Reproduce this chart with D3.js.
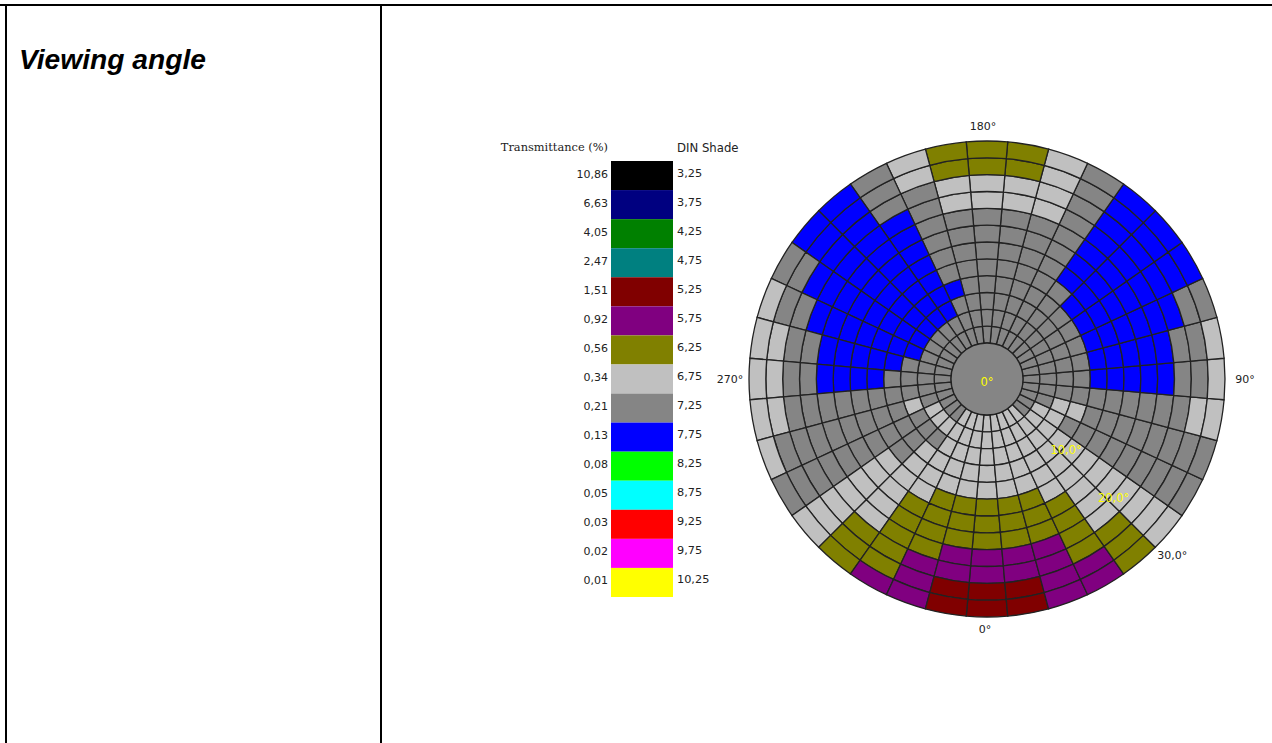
<!DOCTYPE html>
<html>
<head>
<meta charset="utf-8">
<title>Viewing angle</title>
<script src="https://cdn.jsdelivr.net/npm/d3@7"></script>
<style>
    html, body { margin: 0; padding: 0; background: #fff; overflow: hidden; }
    text { font-family: "DejaVu Sans", sans-serif; font-size: 11px; fill: #222; }
    .title { font-family: "Liberation Sans", Arial, sans-serif; font-size: 28.2px; font-weight: bold; font-style: italic; fill: #000; }
    .legend_head { font-family: "DejaVu Serif", serif; font-size: 11.4px; }
    .din_head { font-size: 11.7px; }
    .din { font-size: 11.3px; }
    .ring_label { fill: #ffff00; font-size: 11.5px; }
</style>
</head>
<body>
<svg id="chart" width="1272" height="743"></svg>
<script>
// legend, top to bottom
const transmittance = ["10,86","6,63","4,05","2,47","1,51","0,92","0,56","0,34","0,21","0,13","0,08","0,05","0,03","0,02","0,01"];
const dinLabels = ["3,25","3,75","4,25","4,75","5,25","5,75","6,25","6,75","7,25","7,75","8,25","8,75","9,25","9,75","10,25"];
const dinShades = [3.25,3.75,4.25,4.75,5.25,5.75,6.25,6.75,7.25,7.75,8.25,8.75,9.25,9.75,10.25];
const shadeColors = ["#000000","#000080","#008000","#008080","#800000","#800080","#808000","#c0c0c0","#858585","#0000ff","#00ff00","#00ffff","#ff0000","#ff00ff","#ffff00"];

// shorthand for the shades that show up in the plot
const M = 5.25, P = 5.75, O = 6.25, L = 6.75, G = 7.25, B = 7.75;

// polar angle of each sector (0 = bottom, 90 = right)
const sectorAngles = d3.range(0, 360, 10);
const centerShade = G;

// one row per sector, one value per ring, centre outwards (2,5 deg per ring)
const sectorShades = [
    [L,L,L,L,L,O,O,O,P,P,M,M], // 0
    [L,L,L,L,L,O,O,O,P,P,M,M],
    [L,L,L,L,L,O,O,O,P,P,P,P],
    [L,L,L,L,L,L,O,O,O,O,P,P],
    [L,L,L,L,L,L,L,L,L,O,O,O],
    [G,L,L,L,L,L,L,L,L,L,L,L],
    [G,L,L,G,G,G,G,G,G,G,G,G],
    [G,G,L,L,G,G,G,G,G,G,G,G],
    [G,G,G,G,G,G,G,G,G,G,L,L],
    [G,G,G,G,B,B,B,B,B,G,G,L], // 90
    [G,G,G,G,B,B,B,B,B,G,G,L],
    [G,G,G,G,B,B,B,B,B,B,G,G],
    [G,G,G,G,B,B,B,B,B,B,B,B],
    [G,G,G,G,B,B,B,B,B,B,B,B],
    [G,G,G,G,G,B,B,B,B,B,B,B],
    [G,G,G,G,G,G,G,G,G,G,G,G],
    [G,G,G,G,G,G,G,G,L,L,L,L],
    [G,G,G,G,G,G,G,G,L,L,O,O],
    [G,G,G,G,G,G,G,G,L,L,O,O], // 180
    [G,G,G,G,G,G,G,G,L,L,O,O],
    [G,G,G,B,G,G,G,G,G,G,L,L],
    [G,G,B,B,B,B,B,B,B,G,G,G],
    [G,G,B,B,B,B,B,B,B,B,B,B],
    [G,G,B,B,B,B,B,B,B,B,B,B],
    [G,G,B,B,B,B,B,B,B,B,G,G],
    [G,G,B,B,B,B,B,B,B,G,G,L],
    [G,G,G,B,B,B,B,B,G,G,L,L],
    [G,G,G,G,B,B,B,B,G,G,L,L], // 270
    [G,G,G,G,G,G,G,G,G,G,L,L],
    [G,G,L,G,G,G,G,G,G,G,G,L],
    [G,L,G,G,G,G,G,G,G,G,G,G],
    [G,L,G,G,G,L,L,L,L,L,L,L],
    [G,L,G,L,L,L,L,L,L,O,O,O],
    [L,L,L,L,L,L,O,O,O,O,O,P],
    [L,L,L,L,L,O,O,O,O,P,P,P],
    [L,L,L,L,L,O,O,O,P,P,M,M]
];

const azimuthLabels = [["180°",180],["90°",90],["0°",0],["270°",270]];
const ringLabels = [["10,0°",10],["20,0°",20]];
const outerLabel = ["30,0°",30];
const centerLabel = "0°";
const ringStep = 2.5, sectorStep = 10;

const svg = d3.select("#chart");

// page frame
const frame = svg.append("g").attr("id", "frame");
[[0,5,1272,5],[6,5,6,743],[381,5,381,743]].forEach(d=>{
    frame.append("line")
        .attr("x1", d[0]).attr("y1", d[1])
        .attr("x2", d[2]).attr("y2", d[3])
        .attr("stroke", "#000")
        .attr("stroke-width", 2);
});
svg.append("text")
    .attr("class", "title")
    .attr("x", 19)
    .attr("y", 69)
    .text("Viewing angle");

// shade -> colour
const colorScale = d3.scaleOrdinal().domain(dinShades).range(shadeColors);

// ---- legend ----
const legendY = d3.scaleBand().domain(dinShades).range([161, 597]);
const legend = svg.append("g").attr("id", "legend");

legend.selectAll("rect")
    .data(dinShades)
    .join("rect")
    .attr("x", 611)
    .attr("y", d=>legendY(d))
    .attr("width", 62)
    .attr("height", legendY.bandwidth())
    .attr("fill", d=>colorScale(d));

legend.selectAll("text.trans")
    .data(transmittance)
    .join("text")
    .attr("class", "trans")
    .attr("x", 608)
    .attr("y", (d,i)=>legendY(dinShades[i]) + legendY.bandwidth()/2 + 2)
    .attr("text-anchor", "end")
    .text(d=>d);

legend.selectAll("text.din")
    .data(dinLabels)
    .join("text")
    .attr("class", "din")
    .attr("x", 677)
    .attr("y", (d,i)=>legendY(dinShades[i]) + legendY.bandwidth()/2 + 1)
    .text(d=>d);

legend.append("text")
    .attr("class", "legend_head")
    .attr("x", 608)
    .attr("y", 151)
    .attr("text-anchor", "end")
    .text("Transmittance (%)");

legend.append("text")
    .attr("class", "din_head")
    .attr("x", 677)
    .attr("y", 152)
    .text("DIN Shade");

// ---- polar plot ----
const cx = 987, cy = 379;
const radius = d3.scaleLinear().domain([0, 30]).range([36, 238]);
// d3.arc measures clockwise from the top, the plot has 0 at the bottom going anticlockwise
const angle = d3.scaleLinear().domain([0, 360]).range([Math.PI, -Math.PI]);

const polar = svg.append("g")
    .attr("id", "polar")
    .attr("transform", "translate(" + cx + "," + cy + ")");

const cells = sectorShades.flatMap((row,s)=>row.map((shade,r)=>({
    angle: sectorAngles[s],
    ring: r,
    shade: shade
})));

const arc = d3.arc()
    .innerRadius(d=>radius(d.ring*ringStep))
    .outerRadius(d=>radius((d.ring+1)*ringStep))
    .startAngle(d=>angle(d.angle-sectorStep/2))
    .endAngle(d=>angle(d.angle+sectorStep/2));

polar.selectAll("path.cell")
    .data(cells)
    .join("path")
    .attr("class", "cell")
    .attr("d", arc)
    .attr("fill", d=>colorScale(d.shade))
    .attr("stroke", "#222")
    .attr("stroke-width", 1.3);

polar.append("circle")
    .attr("r", radius(0))
    .attr("fill", colorScale(centerShade))
    .attr("stroke", "#222")
    .attr("stroke-width", 1.3);

// position on the plot for a polar angle / viewing angle pair
function polarPoint(phi, theta){
    let r = radius(theta);
    let a = angle(phi);
    return [r*Math.sin(a), -r*Math.cos(a)];
}

polar.append("text")
    .attr("class", "ring_label")
    .attr("y", 7)
    .attr("text-anchor", "middle")
    .text(centerLabel);

polar.selectAll("text.ring_label_mid")
    .data(ringLabels)
    .join("text")
    .attr("class", "ring_label ring_label_mid")
    .attr("x", d=>polarPoint(45, d[1])[0] + 6)
    .attr("y", d=>polarPoint(45, d[1])[1] + 2)
    .attr("text-anchor", "middle")
    .text(d=>d[0]);

polar.append("text")
    .attr("x", polarPoint(45, outerLabel[1])[0] + 2)
    .attr("y", polarPoint(45, outerLabel[1])[1] + 12)
    .text(outerLabel[0]);

// 0/90/180/270 sit just outside the rim
const rimOffset = {0: [-2, 16], 90: [20, 4], 180: [-4, -11], 270: [-19, 4]};
polar.selectAll("text.azimuth")
    .data(azimuthLabels)
    .join("text")
    .attr("class", "azimuth")
    .attr("x", d=>polarPoint(d[1], 30)[0] + rimOffset[d[1]][0])
    .attr("y", d=>polarPoint(d[1], 30)[1] + rimOffset[d[1]][1])
    .attr("text-anchor", "middle")
    .text(d=>d[0]);
</script>
</body>
</html>
